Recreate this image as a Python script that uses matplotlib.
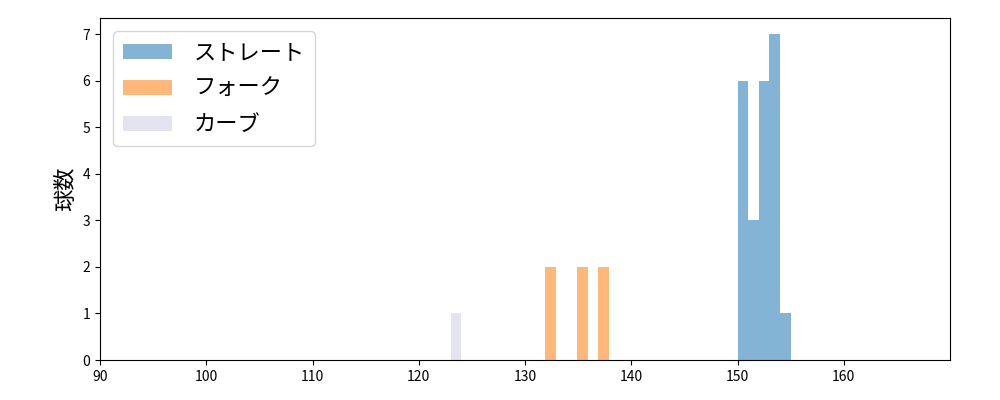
import numpy as np
import matplotlib
matplotlib.use("Agg")
import matplotlib.pyplot as plt

plt.rcParams['font.family'] = ['Noto Sans CJK JP', 'DejaVu Sans']

# bin left edges (km/h) and counts
straight_bins = [150, 151, 152, 153, 154]
straight_counts = [6, 3, 6, 7, 1]
fork_bins = [131.9, 134.9, 136.9]
fork_counts = [2, 2, 2]
curve_bins = [123.0]
curve_counts = [1]

labels = ['ストレート', 'フォーク', 'カーブ']
colors = ['#1f77b4', '#ff7f0e', '#cfcfe6']

fig, ax = plt.subplots(figsize=(10, 4), dpi=100)

series = [(straight_bins, straight_counts), (fork_bins, fork_counts), (curve_bins, curve_counts)]
for (lefts, counts), lab, col in zip(series, labels, colors):
    lefts = np.array(lefts, dtype=float)
    ax.bar(lefts, counts, width=1.0, align='edge', color=col, alpha=0.55, label=lab)

ax.set_xlim(90, 170)
ax.set_ylim(0, 7.35)
ax.set_xticks(np.arange(90, 170, 10))
ax.set_ylabel('球数', fontsize=16)
ax.legend(loc='upper left', fontsize=16, handlelength=2.2, borderpad=0.45,
          labelspacing=0.58, handletextpad=0.95, borderaxespad=0.6)

plt.subplots_adjust(left=0.1, right=0.95, top=0.955, bottom=0.1)
plt.savefig('out.png')
